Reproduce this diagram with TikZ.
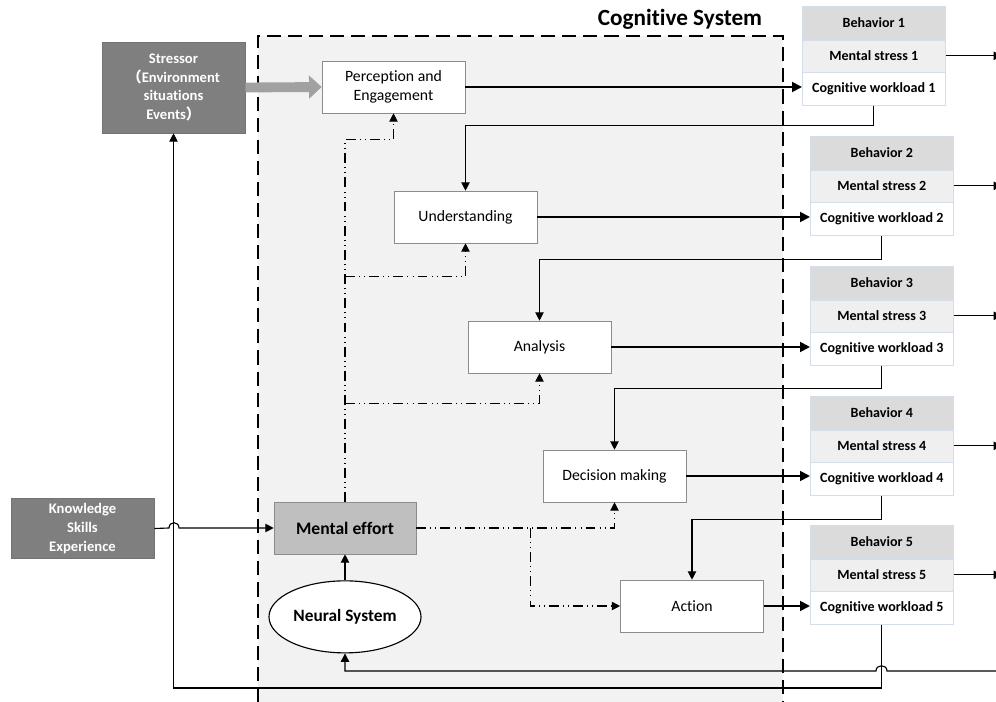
\documentclass[tikz,border=0pt]{standalone}
\usepackage{fontspec}
\setmainfont{Carlito}[Ligatures=NoCommon]
\newfontfamily\cjk{Noto Sans CJK SC}
\usetikzlibrary{arrows.meta,positioning,shapes.geometric}
\definecolor{sysgray}{HTML}{F2F2F2}
\definecolor{darkbox}{HTML}{7F7F7F}
\definecolor{effortbox}{HTML}{BFBFBF}
\definecolor{headgray}{HTML}{DBDBDB}
\definecolor{stressgray}{HTML}{EFEFEF}
\definecolor{stackedge}{HTML}{D3DEEA}

\begin{document}
\begin{tikzpicture}[
    x=0.025cm, y=-0.025cm,
    proc/.style={draw=black!45, fill=white, minimum width=3.575cm, minimum height=1.3cm, align=center, font=\fontsize{11.2}{14}\selectfont},
    dark/.style={draw=black!55, fill=darkbox, text=white, minimum width=3.575cm, align=center, font=\bfseries\fontsize{10.4}{13.4}\selectfont},
    effort/.style={draw=black!45, fill=effortbox, minimum width=3.55cm, minimum height=1.3cm, font=\bfseries\fontsize{12.5}{15}\selectfont},
    neural/.style={ellipse, draw, thick, fill=white, inner sep=0pt, minimum width=3.8cm, minimum height=1.8cm, font=\bfseries\fontsize{12.3}{15}\selectfont},
    head/.style={draw=stackedge, fill=headgray, minimum width=3.575cm, minimum height=0.825cm, font=\bfseries\fontsize{10}{12}\selectfont},
    stress/.style={draw=stackedge, fill=stressgray, minimum width=3.575cm, minimum height=0.8cm, font=\bfseries\fontsize{10}{12}\selectfont},
    load/.style={draw=stackedge, fill=white, minimum width=3.575cm, minimum height=0.825cm, font=\bfseries\fontsize{10}{12}\selectfont},
    title/.style={font=\bfseries\fontsize{16.5}{19}\selectfont},
    arr/.style={-{Triangle[length=6pt,width=6pt]}, line width=0.8pt},
    outarr/.style={-{Triangle[length=7pt,width=7pt]}, line width=1.3pt},
    dda/.style={-{Triangle[length=6pt,width=6pt]}, line width=0.8pt, dash pattern=on 7pt off 3pt on 0.6pt off 3pt on 0.6pt off 3pt},
    bigarr/.style={line width=7pt, draw=black!37, -{Triangle[length=9pt,width=16pt]}},
    sysline/.style={line width=1.6pt, dash pattern=on 10pt off 5pt}
  ]
  \useasboundingbox (0,0) rectangle (996,702);

  % cognitive system frame
  \fill[sysgray] (258,36) rectangle (783,702);
  \draw[sysline] (258,702) |- (783,36) -- (783,702);
  \node[title, anchor=east] (cs) at (767,19) {Cognitive System};

  % inputs
  \node[dark, minimum height=2.275cm] (st) at (173.5,87.5) {Stressor\\{\cjk （}Environment\\situations\\Events{\cjk ）}};
  \node[dark, minimum height=1.275cm] (kn) at (82.5,528.5) {Knowledge\\Skills\\Experience};

  % cognitive stages
  \node[proc] (pe) at (393.5,87) {Perception and\\Engagement};
  \node[proc] (un) at (465.5,217) {Understanding};
  \node[proc] (an) at (539.5,347) {Analysis};
  \node[proc] (dm) at (614.5,476) {Decision making};
  \node[proc] (ac) at (692,606) {Action};
  \node[effort] (me) at (345,528) {Mental effort};
  \node[neural, below=0.65cm of me] (ns) {Neural System};

  % behavior stacks
  \node[head, anchor=north west] (b1) at (802,6) {Behavior 1};
  \node[stress, below=0pt of b1] (ms1) {Mental stress 1};
  \node[load, below=0pt of ms1] (cw1) {Cognitive workload 1};
  \node[head, anchor=north west] (b2) at (810,136) {Behavior 2};
  \node[stress, below=0pt of b2] (ms2) {Mental stress 2};
  \node[load, below=0pt of ms2] (cw2) {Cognitive workload 2};
  \node[head, anchor=north west] (b3) at (810,266) {Behavior 3};
  \node[stress, below=0pt of b3] (ms3) {Mental stress 3};
  \node[load, below=0pt of ms3] (cw3) {Cognitive workload 3};
  \node[head, anchor=north west] (b4) at (810,396) {Behavior 4};
  \node[stress, below=0pt of b4] (ms4) {Mental stress 4};
  \node[load, below=0pt of ms4] (cw4) {Cognitive workload 4};
  \node[head, anchor=north west] (b5) at (810,525) {Behavior 5};
  \node[stress, below=0pt of b5] (ms5) {Mental stress 5};
  \node[load, below=0pt of ms5] (cw5) {Cognitive workload 5};

  \coordinate (edge) at (1002,0);
  \coordinate (fb) at (996,671);
  \coordinate (low) at (0,688);

  % stressor into perception
  \draw[bigarr] (st.east) -- (pe.west);

  % stage outputs
  \draw[outarr] (pe.east) -- (pe.east -| cw1.west);
  \draw[outarr] (un.east) -- (un.east -| cw2.west);
  \draw[outarr] (an.east) -- (an.east -| cw3.west);
  \draw[outarr] (dm.east) -- (dm.east -| cw4.west);
  \draw[outarr] (ac.east) -- (ac.east -| cw5.west);

  % workload feeds the next stage
  \draw[arr] (cw1.south) -- ++(0,20) -| (un.north);
  \draw[arr] (cw2.south) -- ++(0,24) -| (an.north);
  \draw[arr] (cw3.south) -- ++(0,23) -| (dm.north);
  \draw[arr] (cw4.south) -- ++(0,24) -| (ac.north);
  \draw[arr] (cw5.south) -- (cw5.south |- low) -| (st.south);

  % mental stress out
  \draw[arr] (ms1.east) -- (ms1.east -| edge);
  \draw[arr] (ms2.east) -- (ms2.east -| edge);
  \draw[arr] (ms3.east) -- (ms3.east -| edge);
  \draw[arr] (ms4.east) -- (ms4.east -| edge);
  \draw[arr] (ms5.east) -- (ms5.east -| edge);

  % knowledge and neural feedback (with hops)
  \draw[arr] (kn.east) -- (169,528) .. controls (169,521) and (179,521) .. (179,528) -- (me.west);
  \draw[arr] (fb) -- (887,671) .. controls (887,664) and (876,664) .. (876,671) -| (ns.south);
  \draw[arr] (ns.north) -- (me.south);

  % mental effort to the stages
  \draw[dda] (me.north) -- ++(0,-362) -| (pe.south);
  \draw[dda] (me.north) ++(0,-225) -| (un.south);
  \draw[dda] (me.north) ++(0,-98) -| (an.south);
  \draw[dda] (me.east) -| (dm.south);
  \draw[dda] (me.east) ++(114,0) |- (ac.west);
\end{tikzpicture}
\end{document}
